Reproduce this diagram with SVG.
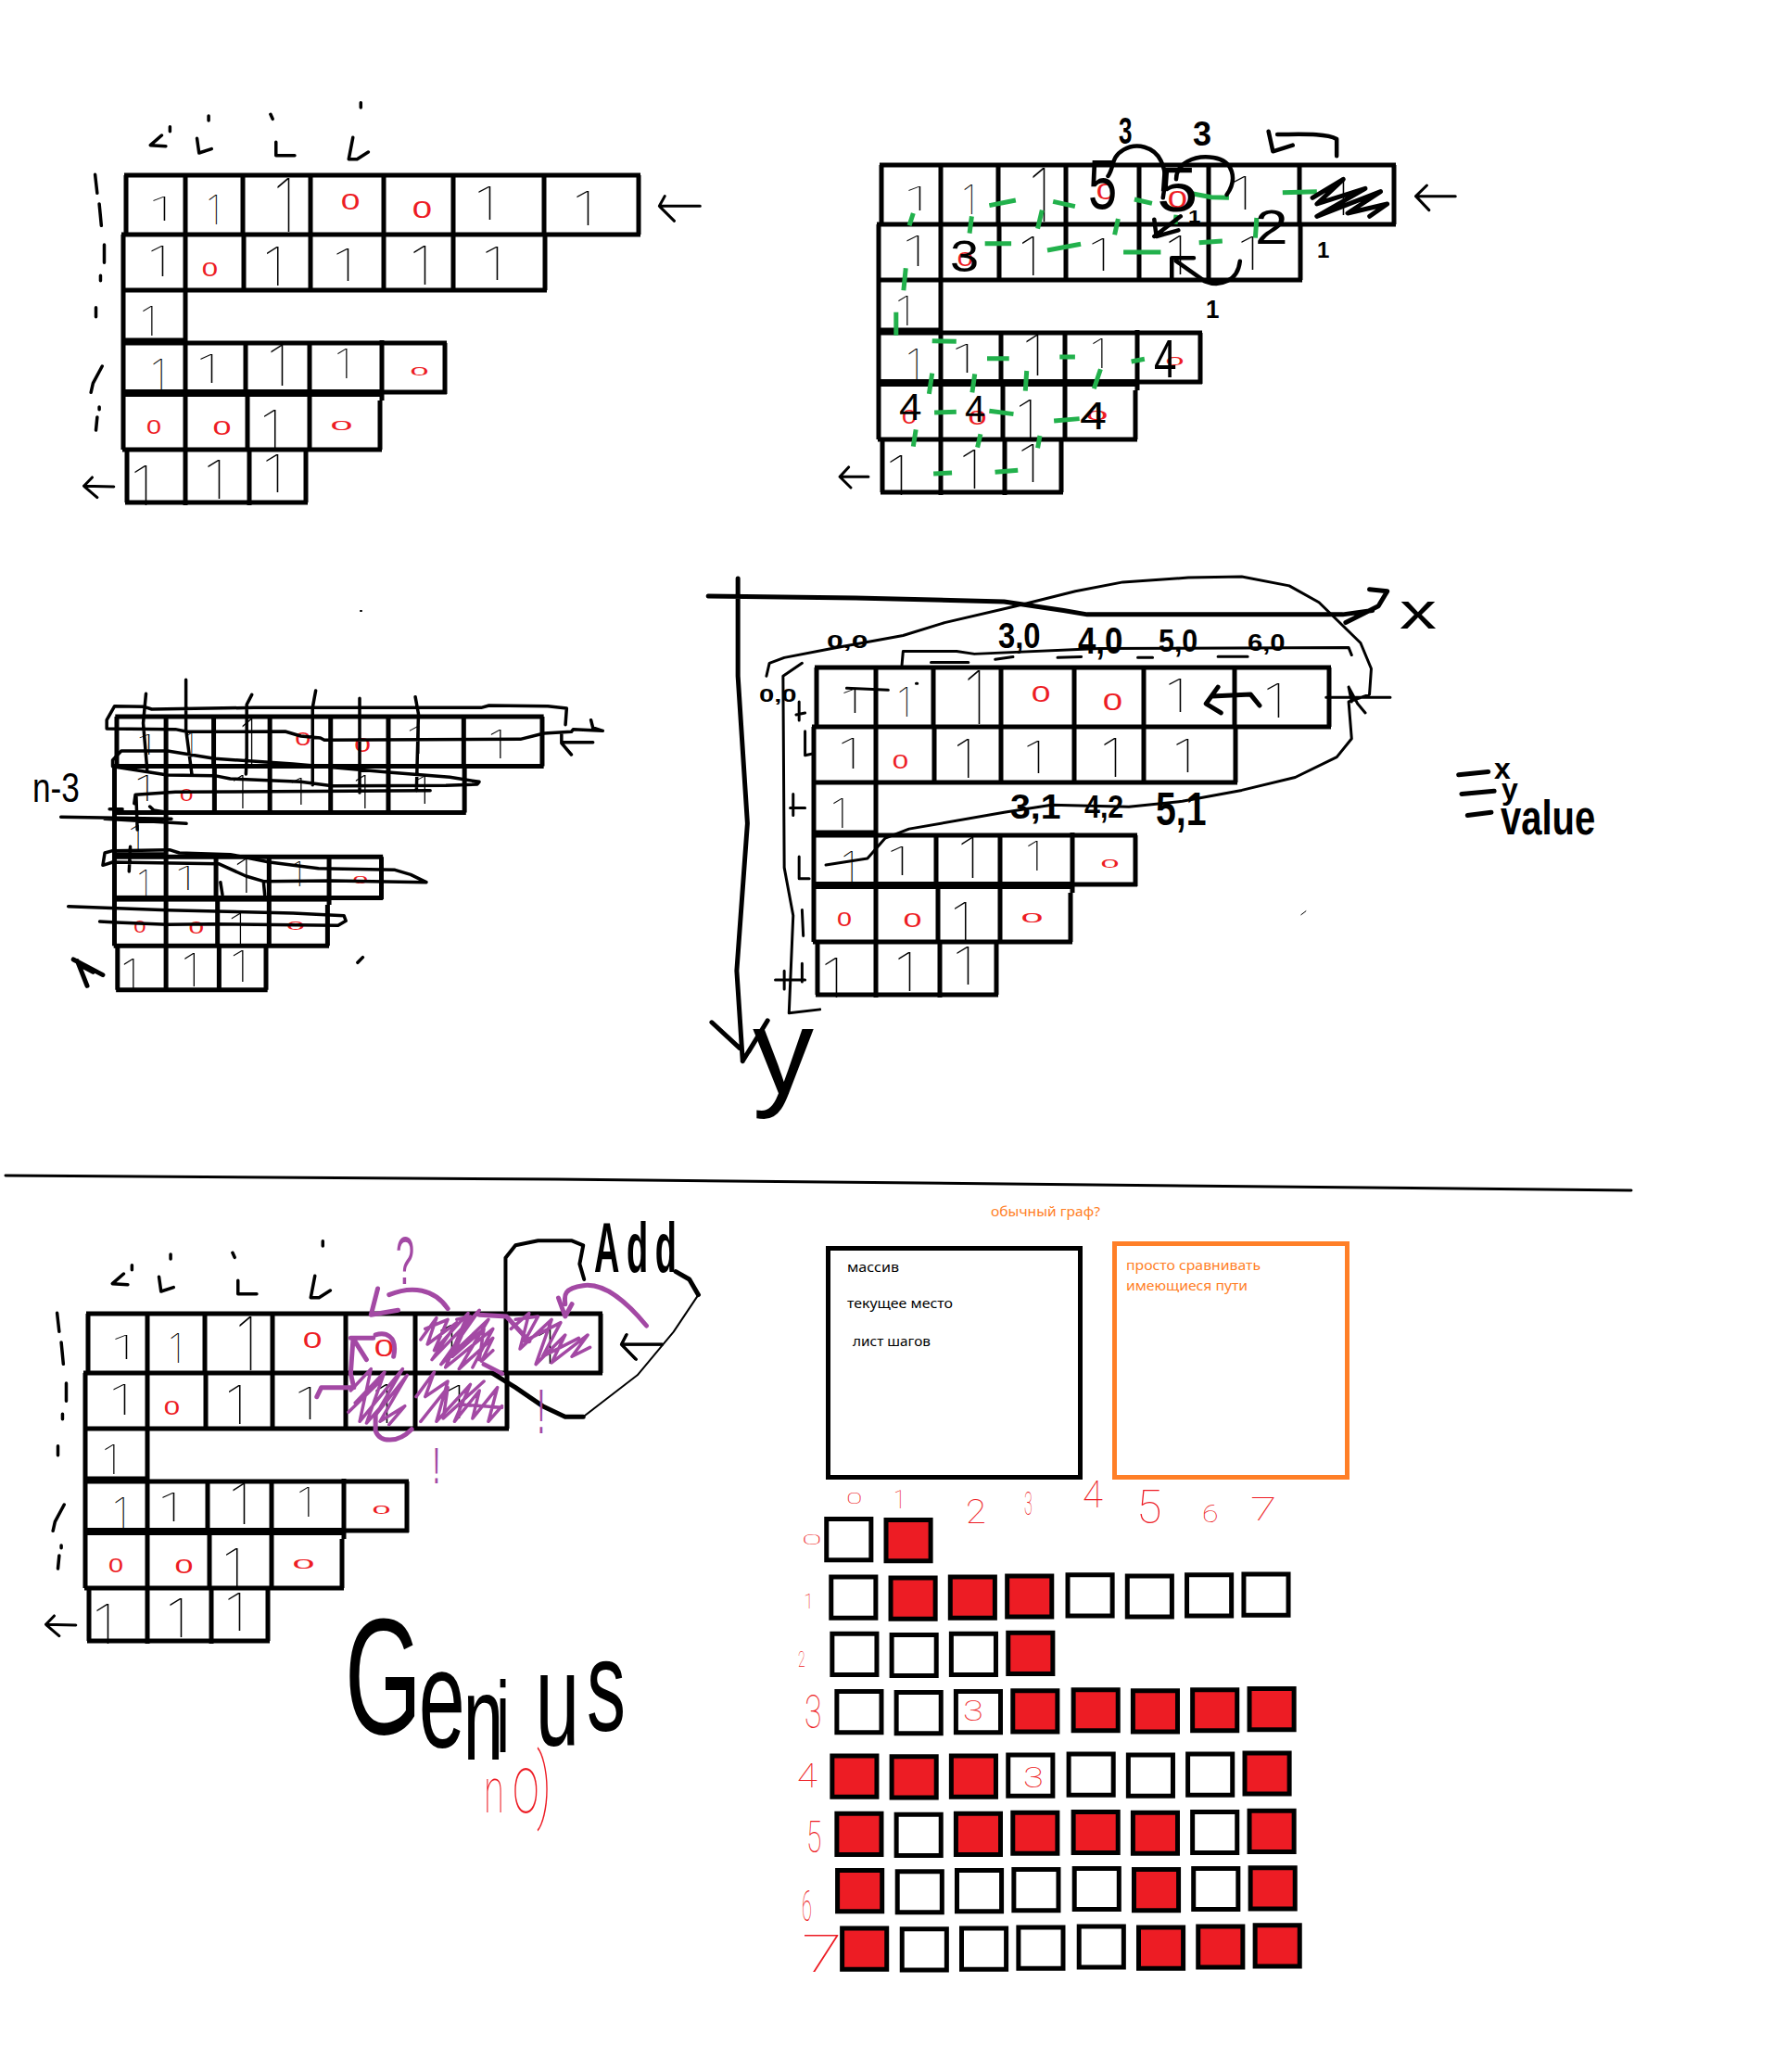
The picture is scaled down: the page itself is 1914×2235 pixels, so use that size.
<svg xmlns="http://www.w3.org/2000/svg" xmlns:xlink="http://www.w3.org/1999/xlink" width="1914" height="2235" viewBox="0 0 1914 2235">
<style>
path,rect{vector-effect:non-scaling-stroke}
.k{fill:none;stroke:#000;stroke-linecap:round;stroke-linejoin:round}
.g{fill:none;stroke:#22b14c;stroke-width:5;stroke-linecap:butt}
.v{fill:none;stroke:#a349a4;stroke-linecap:round;stroke-linejoin:round}
.one{font:100 100px Inter,Roboto,"Liberation Sans",sans-serif;fill:#000}
.z{font:400 24px "Liberation Sans",sans-serif;fill:#ed1c24;text-anchor:middle}
.h{font:700 40px "Liberation Sans",sans-serif;fill:#000}
.w{font:400 40px "Liberation Sans",sans-serif;fill:#000}
.p{font:400 40px "Liberation Sans",sans-serif;fill:#a349a4}
.t{font:100 40px Roboto,"Liberation Sans",sans-serif;fill:#ed1c24}
.b{font:15px "Noto Sans","Noto Sans CJK SC",sans-serif;fill:#000}
.o{font:15px "Noto Sans","Noto Sans CJK SC",sans-serif;fill:#ff7f27}
.m rect{width:134px;height:123px;stroke:#000;stroke-width:5;fill:#fff}
.m rect.r{fill:#ed1c24}
</style>
<defs>
<g id="grid">
<path class="k" style="stroke-linecap:butt" d="M134 189H691M131 253H691M131 313H590M131 367H202M132 370H482M410 423H482M132 485H412M135 542H332M136 189V253M133 253V485M137 485V542M200 187V545M262 189V253M263 253V313M265 370V423M267 423V485M269 485V545M335 187V313M334 370V485M330 485V542M414 189V313M412 367V432M410 432V485M489 189V315M587 187V253M588 253V313M689 189V253M480 370V425"/>
<rect x="134" y="420" width="278" height="8" fill="#000"/>
<text class="one" transform="translate(160.6 238)scale(.7 .35)">1</text>
<text class="one" transform="translate(222.6 242)scale(.45 .44)">1</text>
<text class="one" transform="translate(294.6 250)scale(.7 .8)">1</text>
<text class="one" transform="translate(511.6 237)scale(.7 .49)">1</text>
<text class="one" transform="translate(617.6 243)scale(.7 .51)">1</text>
<text class="one" transform="translate(158.6 298)scale(.7 .45)">1</text>
<text class="one" transform="translate(283.2 308)scale(.68 .58)">1</text>
<text class="one" transform="translate(358.6 303)scale(.7 .48)">1</text>
<text class="one" transform="translate(441.6 307)scale(.7 .58)">1</text>
<text class="one" transform="translate(519.6 302)scale(.7 .49)">1</text>
<text class="one" transform="translate(150.4 362)scale(.55 .44)">1</text>
<text class="one" transform="translate(162 420)scale(.5 .45)">1</text>
<text class="one" transform="translate(211.6 413)scale(.7 .42)">1</text>
<text class="one" transform="translate(287.6 416)scale(.7 .6)">1</text>
<text class="one" transform="translate(360.4 408)scale(.55 .44)">1</text>
<text class="one" transform="translate(280.2 483)scale(.68 .56)">1</text>
<text class="one" transform="translate(140.6 545)scale(.7 .59)">1</text>
<text class="one" transform="translate(219.6 538)scale(.7 .58)">1</text>
<text class="one" transform="translate(282.6 531)scale(.7 .56)">1</text>
<text class="z" transform="translate(378 226)scale(1.55 1)">0</text>
<text class="z" transform="translate(455.5 235)scale(1.6 1.1)">0</text>
<text class="z" transform="translate(226.5 298)scale(1.3 .9)">0</text>
<text class="z" transform="translate(452.5 405)scale(1.5 .55)">0</text>
<text class="z" transform="translate(166 468)scale(1.2 .95)">0</text>
<text class="z" transform="translate(239.5 469)scale(1.5 .95)">0</text>
<text class="z" transform="translate(368.5 464)scale(1.8 .6)">0</text>
</g>
<g id="marks" transform="translate(60 90)scale(.4486 .3333)">
<path class="k" stroke-width="3.5" d="M255 168L228 200L265 203M275 140V155M340 178L345 225L375 212M368 105V120M530 190V233H575M517 100L522 115M715 175L705 245H725L752 222M734 62V78M95 295L100 355M105 390L110 460M117 522V580M108 622V638M97 725V755M112 915L90 970L85 1000M105 1047V1055M100 1080L97 1122"/>
<path class="k" stroke-width="3" d="M1452 397H1550M1465 365L1452 397L1488 445M68 1303L140 1305M88 1275L68 1303L100 1340"/>
</g>
</defs>
<rect width="1914" height="2235" fill="#fff"/>

<g id="board-1">
<use xlink:href="#grid" href="#grid" stroke-width="5"/>
<use xlink:href="#marks" href="#marks"/>
</g>

<g id="board-2">
<use xlink:href="#grid" href="#grid" stroke-width="5" transform="translate(815 -11)"/>
<g transform="translate(880 100)scale(.4744 .3333)">
<path class="g" d="M213 430L222 390M350 455L355 400M395 365L455 348M505 440L515 380M540 352L590 368M680 460L688 408M725 345L765 358M818 425L820 395M850 325L900 338L940 340M1062 323L1140 320M385 488H445M527 510L603 490M700 516H785M872 485L925 480M1000 470L1003 405M200 640L205 568M183 785V710M265 803L320 805M390 860H440M555 855H590M718 870L748 862M258 975L265 908M356 970L362 910M477 965L480 900M633 958L648 895M270 1035L320 1033M395 1030L450 1040M542 1062L600 1055M222 1145L228 1090M368 1148L375 1105M505 1150L510 1110M268 1233L310 1230M408 1228L460 1222"/>
<path class="k" stroke-width="4.5" d="M665 270C680 240 670 210 700 185S770 175 785 220S795 290 790 340M820 280C820 230 860 200 905 210S960 280 935 330M770 410L775 465L825 445M770 465L830 400M1185 205V150C1160 130 1100 135 1050 135M1030 125L1040 190L1085 170M965 545C960 610 920 630 885 610L820 545M810 600V535H860"/>
<path class="k" stroke-width="5" d="M1130 340L1200 280L1140 360L1250 310L1140 400L1285 320L1210 390L1300 360L1260 400"/>
<path class="k" stroke-width="3" d="M1365 335H1455M1390 300L1365 335L1395 380M55 1243H120M75 1212L55 1243L80 1278"/>
</g>
<text class="h" transform="translate(1207 155)scale(.65 1)">3</text>
<text class="h" transform="translate(1287 157)scale(.9 .9)">3</text>
<text class="w" transform="translate(1174 225)scale(1.4 1.9)">5</text>
<text class="w" transform="translate(1248 228)scale(2 1.7)">5</text>
<text class="h" transform="translate(1421 278)scale(.6 .6)">1</text>
<text class="h" transform="translate(1301 343)scale(.65 .7)">1</text>
<text class="h" transform="translate(1282 240)scale(.6 .45)">1</text>
<text class="w" transform="translate(1354 263)scale(1.6 1.3)">2</text>
<text class="w" transform="translate(1025 293)scale(1.4 1.2)">3</text>
<text class="w" transform="translate(1245 407)scale(1.1 1.43)">4</text>
<text class="w" transform="translate(970 453)scale(1.1 1)">4</text>
<text class="w" transform="translate(1041 455)scale(1 1)">4</text>
<text class="w" transform="translate(1165 463)scale(1.3 1.07)">4</text>
</g>

<g id="board-3">
<use xlink:href="#grid" href="#grid" stroke-width="5" transform="translate(13.1 615.2)scale(.83 .835)"/>
<g transform="translate(20 720)scale(.423 .3333)">
<path class="k" stroke-width="3.5" d="M225 198L225 170L245 125L320 127L340 135L600 130L1180 130L1200 123L1350 125L1398 132L1395 185M225 198L400 200L430 208L680 207L720 222L770 228L780 235L1280 232L1340 213L1410 208L1415 200L1490 205M1460 170L1465 195L1490 205M1385 242H1465M1385 215V245L1410 282M240 320V300L262 270L380 270L500 295L700 312L950 340L1100 355L1175 370L1170 378L1090 382L800 383L720 370L540 360L500 350L380 348L240 320M295 440L298 412L400 403L1050 398M325 85L318 180L328 330M427 40V200L442 345M595 88L582 120V290L580 345M758 75L750 130V380M870 100V405M1012 95L1020 150L1015 400M300 415L303 525M335 450L345 462L385 470M108 484L390 490M220 490L428 505M232 458H265M285 580L282 660M215 640L220 600L240 593L385 590L410 600L540 605L640 630L765 650L960 655L1000 670L1040 695L800 690L625 692L580 675L510 635L240 630L215 640M625 695L628 735M515 695L520 735M127 773L380 785L700 795L830 803L835 820L815 835L490 830L380 832L250 825L207 822M865 955L878 938"/>
<path class="k" stroke-width="5" d="M140 945L215 995M150 950L175 1030M160 965L190 985"/>
</g>
<text class="w" transform="translate(35 865)scale(.88 1.1)">n-3</text>
</g>

<g id="board-5">
<use xlink:href="#grid" href="#grid" stroke-width="5" transform="translate(745 531)"/>
<g transform="translate(750 610)scale(.641 .3974)">
<path class="k" stroke-width="5" d="M22 83L270 88L520 98L620 122L660 133H1090L1140 122M1135 65L1165 70L1150 110L1095 155M72 35V300L88 700L70 1100L80 1345M28 1240L75 1310M80 1345L122 1235L90 1320"/>
<path class="k" stroke-width="3" d="M120 300L125 265L150 250L230 225L350 190L420 155L540 110L640 70L720 45L830 33L920 30L1000 55L1050 100L1120 210L1138 280L1135 350L1100 370L1105 470L1080 520L1010 575L920 610L820 640L730 655L600 650L520 670L360 715L320 740L290 795L220 813M348 270L350 233H440L470 240L680 225L1100 223L1105 243M180 265L148 300L150 820L165 950L158 1215L210 1205M175 370V420M170 405L185 400M185 450V515L200 510M165 620V678M160 658H185M175 790V850H192M180 935L182 1005M135 1125H185M150 1100V1150M180 1080V1130M397 263H460M505 255L535 248M610 250L650 248M745 250H770M880 247H930M255 333L325 338M372 320H374M1062 358H1170M1100 330L1115 375L1128 400M1100 330L1105 370"/>
<path class="k" stroke-width="5" d="M950 380L935 350L870 355M880 330L860 375L885 400M1285 568L1335 560M1290 620L1345 612M1300 678L1340 670"/>
<path class="k" stroke-width="1" d="M1020 948L1028 938"/>
</g>
<text class="h" transform="translate(892 699)scale(.8 .5)">0,0</text>
<text class="h" transform="translate(819 757)scale(.73 .5)">0,0</text>
<text class="h" transform="translate(1077 699)scale(.82 .96)">3,0</text>
<text class="h" transform="translate(1163 705)scale(.87 1)">4,0</text>
<text class="h" transform="translate(1250 703)scale(.76 .9)">5,0</text>
<text class="h" transform="translate(1346 702)scale(.73 .65)">6,0</text>
<text class="h" transform="translate(1090 883)scale(.98 .9)">3,1</text>
<text class="h" transform="translate(1170 882)scale(.76 .9)">4,2</text>
<text class="h" transform="translate(1247 890)scale(.98 1.25)">5,1</text>
<text class="w" transform="translate(1510 678)scale(2 1.4)">x</text>
<text class="w" transform="translate(812 1180)scale(3.3)">y</text>
<text class="h" transform="translate(1612 840)scale(.8)">x</text>
<text class="h" transform="translate(1620 862)scale(.8)">y</text>
<text class="h" transform="translate(1619 900)scale(1 1.3)">value</text>
</g>

<path id="divider" class="k" stroke-width="3" d="M6 1268L600 1272L1760 1284"/>
<path class="k" stroke-width="2" d="M389 659h1"/>

<g id="board-4">
<use xlink:href="#grid" href="#grid" stroke-width="5" transform="translate(-41 1228)"/>
<use xlink:href="#marks" href="#marks" transform="translate(-41 1228)"/>
<g transform="translate(30 1300)scale(.4872 .3333)">
<path class="v" stroke-width="3.5" d="M870 435L905 365L885 450L950 380L895 500L1000 340L915 515L1020 370L955 530L1030 430L1005 505L1030 470M950 370L980 360L940 490L1010 400L1000 500M880 400L930 370L900 470L975 350L925 525L1030 400L985 525M1070 400L1110 350L1090 465L1160 370L1125 515L1190 420L1160 510L1240 420L1205 490L1245 460M1080 370L1130 360L1100 440L1180 380L1140 490L1220 430M715 600L760 530L735 700L830 530L770 680L840 550L780 700L835 650L800 710M710 670L780 570M725 640L790 540L750 705L820 590M860 620L900 540L880 620L930 570L905 700L980 580L945 700L1000 600L985 690L1040 590L1020 700L1050 650M960 645L1050 655M870 700L930 590L920 690L1010 570"/>
<path class="v" stroke-width="5" d="M930 335C900 270 850 260 800 290M775 270L760 355L820 340M1370 390C1330 320 1280 250 1230 260S1190 300 1190 320M1175 300L1190 360L1205 320M1000 355L1060 360L1110 440M1010 515L1050 545M810 490C820 420 790 410 770 420M715 430H765M720 430L750 500M720 440L715 545L722 590L650 590L640 620M850 725C820 770 780 770 770 730V680"/>
<path class="k" stroke-width="4" d="M1058 340V170L1080 130L1130 115H1205L1230 130L1222 190L1232 240"/>
<path class="k" stroke-width="5" d="M1435 215L1465 240L1485 290M1230 685H1190L1140 650L1080 590L1030 545"/>
<path class="k" stroke-width="2" d="M1485 290L1430 410L1350 550L1270 640L1230 685"/>
<path class="k" stroke-width="3" d="M1315 450H1405M1325 420L1315 450L1345 497"/>
</g>
<text class="p" transform="translate(427 1385)scale(.9 1.8)">?</text>
<text class="p" transform="translate(580 1546)scale(.7 1.7)">!</text>
<text class="p" transform="translate(467 1600)scale(.7 1.4)">!</text>
<text class="h" transform="translate(641 1372)scale(.95 1.9)" letter-spacing="8">Add</text>
<text id="genius" transform="translate(372 1870)scale(.6 1)" style="font-family:'Liberation Sans',sans-serif" fill="#000"><tspan x="0" y="0" font-size="178">G</tspan><tspan x="133" y="15" font-size="150">e</tspan><tspan x="213" y="28" font-size="130">n</tspan><tspan x="272" y="20" font-size="110">i</tspan><tspan x="343" y="13" font-size="142">u</tspan><tspan x="435" y="-3" font-size="140">s</tspan></text>
<text class="t" transform="translate(522 1955)scale(1 1.7)"><tspan x="0">n</tspan><tspan x="31" font-size="52">o</tspan><tspan x="57" font-size="52">)</tspan></text>
</g>

<g id="note-graph">
<text class="o" x="1069" y="1312" textLength="118" lengthAdjust="spacingAndGlyphs">обычный граф?</text>
<rect x="1202.5" y="1341.5" width="251" height="252" fill="none" stroke="#ff7f27" stroke-width="5"/>
<text class="o" x="1215" y="1370" textLength="145" lengthAdjust="spacingAndGlyphs">просто сравнивать</text>
<text class="o" x="1215" y="1392" textLength="131" lengthAdjust="spacingAndGlyphs">имеющиеся пути</text>
</g>
<g id="note-state">
<rect x="893.5" y="1346.5" width="272" height="247" fill="none" stroke="#000" stroke-width="5"/>
<text class="b" x="914" y="1372" textLength="56" lengthAdjust="spacingAndGlyphs">массив</text>
<text class="b" x="914" y="1411" textLength="114" lengthAdjust="spacingAndGlyphs">текущее место</text>
<text class="b" x="920" y="1452" textLength="84" lengthAdjust="spacingAndGlyphs">лист шагов</text>
</g>

<g id="matrix">
<g class="m" transform="translate(858 1608)scale(.359)">
<rect x="94" y="85"/><rect class="r" x="273" y="88"/>
<rect x="108" y="259"/><rect class="r" x="287" y="262"/><rect class="r" x="466" y="259"/><rect class="r" x="637" y="256"/><rect x="819" y="253"/><rect x="998" y="256"/><rect x="1177" y="253"/><rect x="1348" y="251"/>
<rect x="111" y="430"/><rect x="290" y="433"/><rect x="469" y="430"/><rect class="r" x="640" y="427"/>
<rect x="125" y="603"/><rect x="304" y="606"/><rect x="483" y="603"/><rect class="r" x="654" y="601"/><rect class="r" x="836" y="598"/><rect class="r" x="1015" y="601"/><rect class="r" x="1194" y="598"/><rect class="r" x="1365" y="595"/>
<rect class="r" x="111" y="797"/><rect class="r" x="290" y="799"/><rect class="r" x="469" y="797"/><rect x="640" y="794"/><rect x="822" y="791"/><rect x="1001" y="794"/><rect x="1180" y="791"/><rect class="r" x="1351" y="788"/>
<rect class="r" x="125" y="970"/><rect x="304" y="973"/><rect class="r" x="483" y="970"/><rect class="r" x="654" y="967"/><rect class="r" x="836" y="965"/><rect class="r" x="1015" y="967"/><rect x="1194" y="965"/><rect class="r" x="1365" y="962"/>
<rect class="r" x="127" y="1141"/><rect x="307" y="1144"/><rect x="486" y="1141"/><rect x="657" y="1138"/><rect x="839" y="1135"/><rect class="r" x="1018" y="1138"/><rect x="1197" y="1135"/><rect class="r" x="1368" y="1133"/>
<rect class="r" x="141" y="1315"/><rect x="321" y="1317"/><rect x="500" y="1315"/><rect x="671" y="1312"/><rect x="853" y="1309"/><rect class="r" x="1032" y="1312"/><rect class="r" x="1211" y="1309"/><rect class="r" x="1382" y="1306"/>
</g>
<text class="t" transform="translate(1039 1856)scale(1 .8)">3</text>
<text class="t" transform="translate(1104 1928)scale(1 .8)">3</text>
<text class="t" transform="translate(913 1622)scale(.8 .43)">0</text>
<text class="t" transform="translate(964 1627)scale(.6 .67)">1</text>
<text class="t" transform="translate(1042 1643)scale(1 .9)">2</text>
<text class="t" transform="translate(1105 1634)scale(.4 .9)">3</text>
<text class="t" transform="translate(1168 1626)scale(1 1)">4</text>
<text class="t" transform="translate(1226 1643)scale(1.25 1.27)">5</text>
<text class="t" transform="translate(1297 1642)scale(.8 .64)">6</text>
<text class="t" transform="translate(1349 1640)scale(1.3 .88)">7</text>
<text class="t" transform="translate(865 1666)scale(1 .36)">0</text>
<text class="t" transform="translate(867 1735)scale(.5 .57)">1</text>
<text class="t" transform="translate(861 1798)scale(.35 .6)">2</text>
<text class="t" transform="translate(868 1864)scale(.85 1.25)">3</text>
<text class="t" transform="translate(860 1928)scale(1 .9)">4</text>
<text class="t" transform="translate(870 1998)scale(.75 1.18)">5</text>
<text class="t" transform="translate(865 2072)scale(.5 1.15)">6</text>
<text class="t" transform="translate(865 2127)scale(2 1.4)">7</text>
</g>
</svg>
